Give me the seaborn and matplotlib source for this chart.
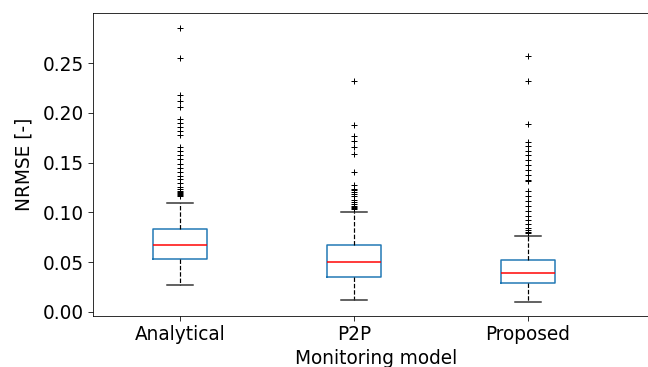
import numpy as np
import pandas as pd
import matplotlib
matplotlib.use("Agg")
import matplotlib.pyplot as plt
import seaborn as sns

# Category names
models = ["Analytical", "P2P", "Proposed"]

# Box statistics (lower whisker, Q1, median, Q3, upper whisker)
whisker_low = [0.027, 0.0115, 0.0098]
q1_values = [0.0535, 0.0346, 0.0289]
median_values = [0.067, 0.0497, 0.0392]
q3_values = [0.0835, 0.0671, 0.0523]
whisker_high = [0.1095, 0.100, 0.0762]

# Outliers
outliers_analytical = [0.286, 0.255, 0.218, 0.212, 0.206, 0.194, 0.190, 0.186,
                       0.182, 0.178, 0.166, 0.162, 0.158, 0.154, 0.149, 0.145,
                       0.141, 0.137, 0.134, 0.130, 0.126, 0.123, 0.121, 0.120,
                       0.119, 0.118, 0.117, 0.116]
outliers_p2p = [0.232, 0.188, 0.177, 0.172, 0.166, 0.159, 0.141, 0.128, 0.124,
                0.122, 0.120, 0.118, 0.116, 0.112, 0.110, 0.108, 0.106, 0.105,
                0.104, 0.103]
outliers_proposed = [0.257, 0.232, 0.189, 0.171, 0.167, 0.162, 0.158, 0.153,
                     0.148, 0.143, 0.138, 0.133, 0.132, 0.121, 0.116, 0.111,
                     0.106, 0.101, 0.096, 0.092, 0.088, 0.084, 0.082, 0.080,
                     0.079]
outliers = [outliers_analytical, outliers_p2p, outliers_proposed]

# Build a long table whose quartiles/whiskers reproduce the read statistics
REPEAT = 40
rows = []
for i, m in enumerate(models):
    vals = ([whisker_low[i]] + [q1_values[i]] * REPEAT + [median_values[i]] * REPEAT
            + [q3_values[i]] * REPEAT + [whisker_high[i]] + outliers[i])
    for v in vals:
        rows.append({"Monitoring model": m, "NRMSE [-]": v})
df = pd.DataFrame(rows)

fig = plt.figure(figsize=(9.0, 367 / 72), dpi=72)
ax = fig.add_axes([93 / 648, 51 / 367, 565.5 / 648, 302.7 / 367])

sns.boxplot(
    data=df, x="Monitoring model", y="NRMSE [-]", order=models,
    fill=False, width=0.31, whis=1.05, linewidth=1.3, color="black", ax=ax,
)

# Style the box artists like the reference (classify each drawn line)
for ln in ax.lines:
    xd = np.asarray(ln.get_xdata(), dtype=float)
    yd = np.asarray(ln.get_ydata(), dtype=float)
    ln.set_linewidth(1.3)
    if ln.get_marker() not in (None, "None", "", " ") and ln.get_linestyle() in ("None", "none", "", " "):
        ln.set_marker("+")
        ln.set_markeredgecolor("black")
        ln.set_markerfacecolor("black")
        ln.set_markersize(6)
        ln.set_markeredgewidth(1.0)
    elif len(xd) >= 4:
        ln.set_color("#1f77b4")
        ln.set_linewidth(1.5)
    elif len(xd) == 2 and np.isclose(xd[0], xd[1]):
        ln.set_color("black")
        ln.set_linestyle("--")
        ln.set_linewidth(1.2)
    elif len(xd) == 2:
        if np.any(np.isclose(yd[0], median_values)):
            ln.set_color("#ff0000")
            ln.set_linewidth(1.5)
        else:
            ln.set_color("#333333")
            ln.set_linewidth(1.5)
for p in ax.patches:
    p.set_edgecolor("#1f77b4")
    p.set_facecolor("none")
    p.set_linewidth(1.5)

ax.set_xlim(-0.5, 2.75)
ax.set_ylim(-0.0043, 0.3003)
ax.set_yticks([0.0, 0.05, 0.10, 0.15, 0.20, 0.25])
ax.set_yticklabels(["0.00", "0.05", "0.10", "0.15", "0.20", "0.25"])
ax.tick_params(labelsize=18.5, length=5, pad=4)
ax.set_xlabel("Monitoring model", fontsize=18.5, labelpad=5)
ax.set_ylabel("NRMSE [-]", fontsize=18.5, labelpad=9)

fig.savefig("out.png", dpi=72)
